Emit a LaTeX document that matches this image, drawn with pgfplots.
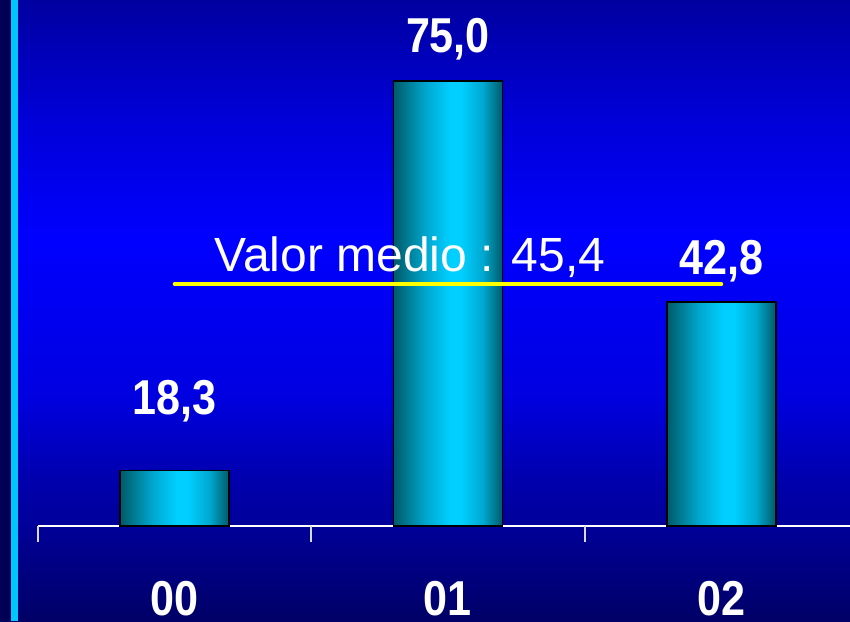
\documentclass[border=0pt]{standalone}
\usepackage{pgfplots}
\pgfplotsset{compat=1.18}
\usepackage{fontspec}
\setmainfont{Liberation Sans}
\newfontfamily\boldlab[FakeStretch=0.88]{Liberation Sans Bold}
\definecolor{bgA}{HTML}{000066}
\definecolor{bgB}{HTML}{000098}
\definecolor{bgC}{HTML}{0000B0}
\definecolor{bgD}{HTML}{0000E0}
\definecolor{bgE}{HTML}{0000FF}
\definecolor{bgF}{HTML}{0000D8}
\definecolor{bgG}{HTML}{0000A0}
\definecolor{barDark}{HTML}{005A68}
\definecolor{barMid}{HTML}{00A8D0}
\definecolor{barLight}{HTML}{00CFFF}
\definecolor{leftNavy}{HTML}{000055}
\definecolor{leftCyan}{HTML}{00C8FF}
\definecolor{tickGray}{HTML}{D8D8E8}
\pgfdeclareverticalshading{bgshade}{100bp}{color(0bp)=(bgA); color(25bp)=(bgA); color(32.6bp)=(bgB); color(36.8bp)=(bgC); color(43.1bp)=(bgD); color(55.7bp)=(bgE); color(65.4bp)=(bgF); color(75bp)=(bgG); color(100bp)=(bgG)}
\pgfdeclarehorizontalshading{bargrad}{100bp}{color(0bp)=(barDark); color(25bp)=(barDark); color(40bp)=(barMid); color(51bp)=(barLight); color(56bp)=(barLight); color(66bp)=(barMid); color(75bp)=(barDark); color(100bp)=(barDark)}
\begin{document}
\begin{tikzpicture}
\shade[shading=bgshade] (0,0) rectangle (850pt,621pt);
\fill[leftNavy] (0,0) rectangle (11pt,621pt);
\fill[leftCyan] (11pt,0) rectangle (18pt,621pt);
\begin{axis}[
  at={(38pt,95pt)}, anchor=south west,
  scale only axis, width=812pt, height=526pt,
  xmin=-0.5, xmax=2.471, ymin=10.2, ymax=86.76,
  axis x line=bottom, axis y line=none,
  axis line style={-, white, line width=2pt},
  ytick=\empty,
  xtick={0,1,2}, xticklabels={00,01,02},
  major tick length=0pt,
  xticklabel style={anchor=base, yshift=-89pt, font=\boldlab\fontsize{49}{55}\selectfont, text=white, inner sep=0pt},
  extra x ticks={-0.5,0.5,1.5}, extra x tick labels={},
  extra x tick style={major tick length=16pt, tick align=outside, tick style={tickGray, line width=2pt}},
  clip=false,
  ybar, bar width=109pt,
  barstyle/.style={draw=black, line width=1.5pt, shading=bargrad, bar shift=0pt},
]
\addplot[barstyle] coordinates {(0,18.3)};
\addplot[barstyle] coordinates {(1,75.0)};
\addplot[barstyle] coordinates {(2,42.8)};
\addplot[sharp plot, draw={rgb,255:red,255;green,255;blue,0}, line width=4pt, line cap=round, mark=none] coordinates {(0,45.4) (2,45.4)};
\node[anchor=base, text=white, inner sep=0pt, font=\fontsize{48}{54}\selectfont] at (axis cs:0.861,47.17) {Valor medio : 45,4};
\node[anchor=base, text=white, inner sep=0pt, font=\boldlab\fontsize{49}{55}\selectfont] at (axis cs:0,26.36) {18,3};
\node[anchor=base, text=white, inner sep=0pt, font=\boldlab\fontsize{49}{55}\selectfont] at (axis cs:1,79.05) {75,0};
\node[anchor=base, text=white, inner sep=0pt, font=\boldlab\fontsize{49}{55}\selectfont] at (axis cs:2,46.74) {42,8};
\end{axis}
\pgfresetboundingbox
\useasboundingbox (0,0) rectangle (850pt,621pt);
\end{tikzpicture}
\end{document}
